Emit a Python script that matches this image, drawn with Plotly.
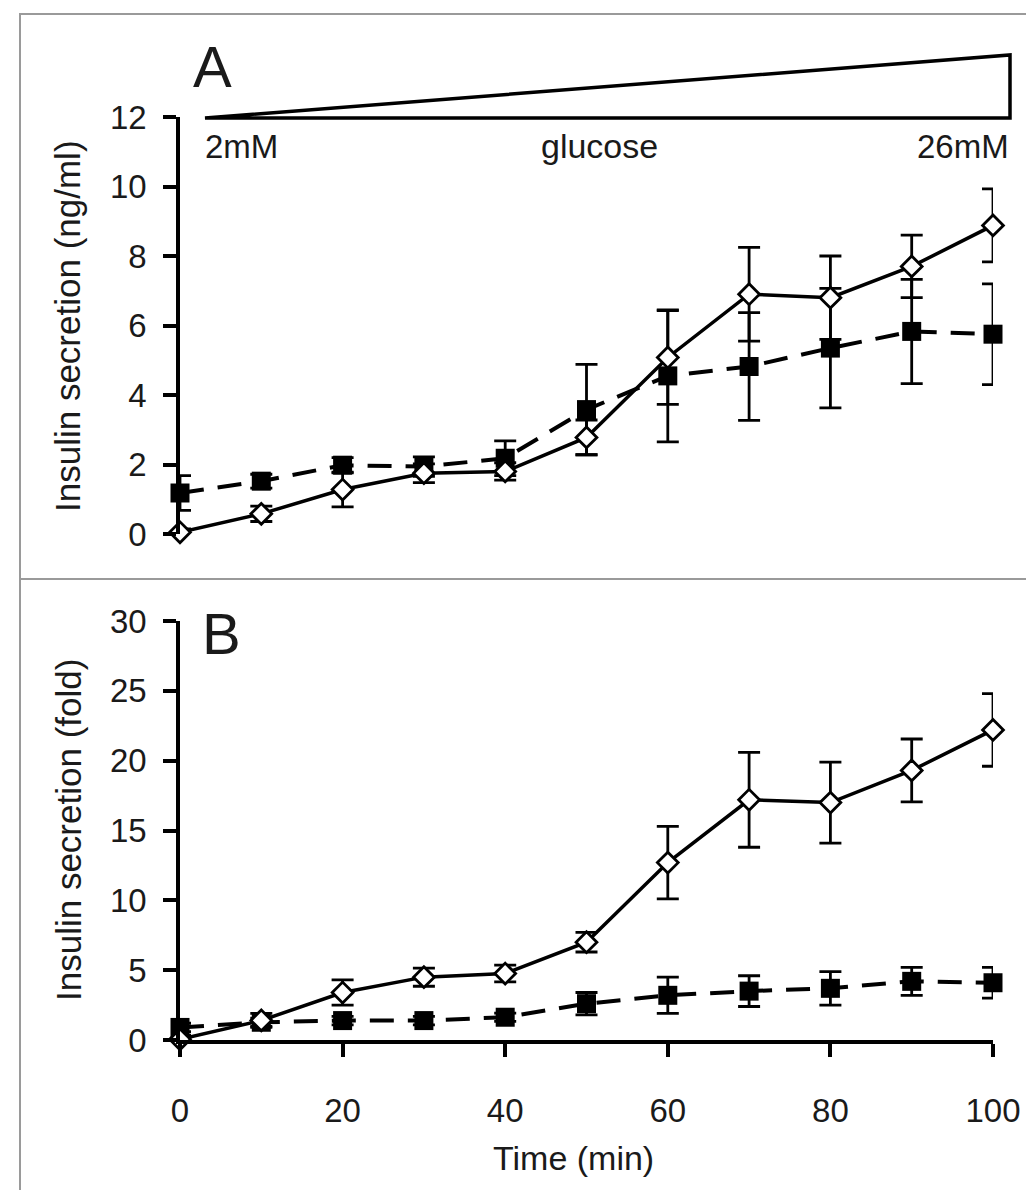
import plotly.graph_objects as go

# ---- data ----
time_min = [0, 10, 20, 30, 40, 50, 60, 70, 80, 90, 100]

a_open = [0.05, 0.58, 1.28, 1.75, 1.80, 2.78, 5.08, 6.90, 6.80, 7.70, 8.88]
a_open_err = [0.10, 0.22, 0.50, 0.27, 0.25, 0.50, 1.35, 1.35, 1.20, 0.90, 1.05]
a_sq = [1.18, 1.52, 1.98, 1.94, 2.18, 3.58, 4.55, 4.82, 5.35, 5.83, 5.75]
a_sq_err = [0.50, 0.20, 0.22, 0.28, 0.50, 1.30, 1.90, 1.55, 1.72, 1.50, 1.45]

b_open = [0.05, 1.40, 3.40, 4.50, 4.76, 7.00, 12.70, 17.20, 17.00, 19.30, 22.20]
b_open_err = [0.30, 0.50, 0.90, 0.65, 0.60, 0.70, 2.60, 3.40, 2.90, 2.25, 2.60]
b_sq = [0.90, 1.27, 1.39, 1.39, 1.63, 2.60, 3.20, 3.50, 3.70, 4.20, 4.10]
b_sq_err = [0.30, 0.30, 0.30, 0.30, 0.30, 0.80, 1.30, 1.10, 1.20, 1.00, 1.10]

a_ticks = [0, 2, 4, 6, 8, 10, 12]
b_ticks = [0, 5, 10, 15, 20, 25, 30]
x_ticks = [0, 20, 40, 60, 80, 100]

# ---- layout helpers (pixel -> paper) ----
W, H = 1034, 1190
def fx(p):
    return p / W
def fy(p):
    return 1 - p / H

FONT = 'Arial, "Liberation Sans", sans-serif'
x_dom = [fx(172), fx(985)]
ya_dom = [fy(526), fy(109)]
yb_dom = [fy(1032), fy(613)]

fig = go.Figure()

def add_pair(xa, ya, sq, sq_err, op, op_err):
    fig.add_trace(go.Scatter(
        x=time_min, y=sq, xaxis=xa, yaxis=ya, mode='lines+markers',
        line=dict(color='black', width=4, dash='24px,14px'),
        marker=dict(symbol='square', size=19, color='black'),
        error_y=dict(type='data', array=sq_err, color='black', thickness=2.8, width=11),
        cliponaxis=False, showlegend=False))
    fig.add_trace(go.Scatter(
        x=time_min, y=op, xaxis=xa, yaxis=ya, mode='lines+markers',
        line=dict(color='black', width=3.5),
        marker=dict(symbol='diamond', size=16, color='white',
                    line=dict(color='black', width=2.8)),
        error_y=dict(type='data', array=op_err, color='black', thickness=2.8, width=11),
        cliponaxis=False, showlegend=False))

add_pair('x', 'y', a_sq, a_sq_err, a_open, a_open_err)
add_pair('x2', 'y2', b_sq, b_sq_err, b_open, b_open_err)

axis_common = dict(showline=True, linewidth=3.5, linecolor='black', ticks='outside',
                   ticklen=13, tickwidth=3.5, tickcolor='black', showgrid=False,
                   zeroline=False, automargin=False,
                   tickfont=dict(family=FONT, size=33, color='#1a1a1a'))

fig.update_layout(
    width=W, height=H,
    margin=dict(l=0, r=0, t=0, b=0),
    paper_bgcolor='white', plot_bgcolor='white',
    showlegend=False,
    xaxis=dict(domain=x_dom, range=[0, 100], visible=False, anchor='y', fixedrange=True),
    yaxis=dict(domain=ya_dom, range=[0, 12], tickvals=a_ticks, anchor='x',
               ticklabelstandoff=10, **axis_common),
    xaxis2=dict(domain=x_dom, range=[0, 100], tickvals=x_ticks, anchor='y2',
                ticklabelstandoff=26, **axis_common),
    yaxis2=dict(domain=yb_dom, range=[0, 30], tickvals=b_ticks, anchor='x2',
                ticklabelstandoff=10, **axis_common),
)

shapes = []
# outer frame and divider
shapes.append(dict(type='rect', xref='paper', yref='paper',
                   x0=fx(12), x1=fx(1040), y0=fy(1200), y1=fy(6),
                   line=dict(color='#9a9a9a', width=2), fillcolor='rgba(0,0,0,0)'))
shapes.append(dict(type='line', xref='paper', yref='paper',
                   x0=fx(12), x1=fx(1040), y0=fy(571), y1=fy(571),
                   line=dict(color='#9a9a9a', width=2)))
# glucose gradient wedge
shapes.append(dict(type='path', xref='paper', yref='paper',
                   path=f"M {fx(197)} {fy(110)} L {fx(1002)} {fy(47)} L {fx(1002)} {fy(110)} Z",
                   line=dict(color='black', width=3.5), fillcolor='white'))
fig.update_layout(shapes=shapes)

ann = []
def text(x, y, s, size=33, xanchor='center', angle=0):
    ann.append(dict(x=fx(x), y=fy(y), xref='paper', yref='paper', text=s,
                    showarrow=False, xanchor=xanchor, yanchor='middle', textangle=angle,
                    font=dict(family=FONT, size=size, color='#1a1a1a')))

text(204, 58, 'A', size=58)
text(213, 625, 'B', size=58)
text(195, 138, '2mM', xanchor='left')
text(591, 138, 'glucose', size=34)
text(1003, 138, '26mM', xanchor='right')
text(60, 318, 'Insulin secretion (ng/ml)', size=35, angle=-90)
text(60, 822, 'Insulin secretion (fold)', size=35, angle=-90)
text(565, 1150, 'Time (min)', size=34)
fig.update_layout(annotations=ann)

fig.write_html("out.html")
